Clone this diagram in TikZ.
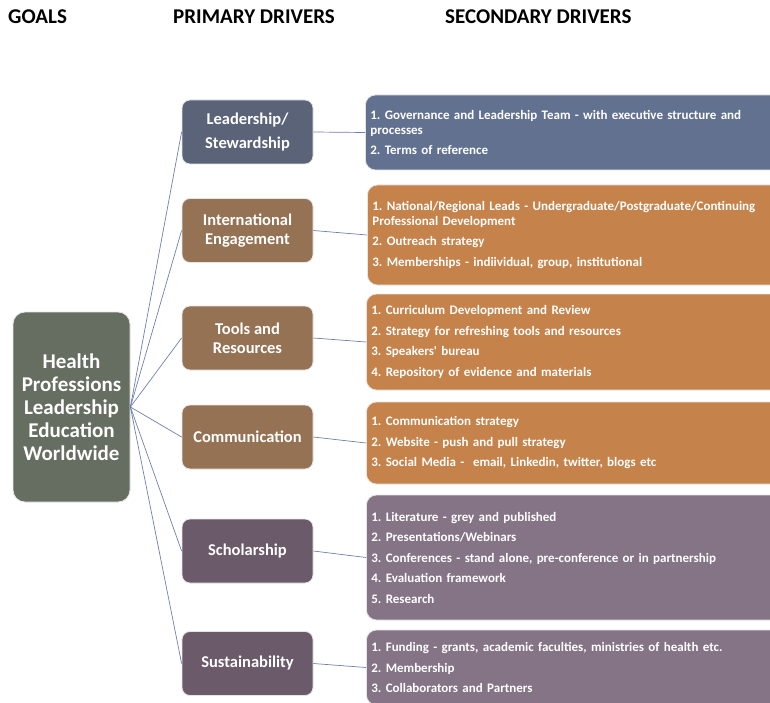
\documentclass[tikz,border=0pt]{standalone}
\usepackage{fontspec}
\setmainfont{Carlito}[Ligatures=TeXOff]
\frenchspacing
\definecolor{goalgreen}{RGB}{101,110,96}
\definecolor{primblue}{RGB}{90,99,120}
\definecolor{primbrown}{RGB}{149,114,83}
\definecolor{primplum}{RGB}{107,90,106}
\definecolor{secblue}{RGB}{98,113,143}
\definecolor{secorange}{RGB}{197,130,74}
\definecolor{secmauve}{RGB}{132,116,134}
\definecolor{linkblue}{RGB}{110,128,176}

\begin{document}
\begin{tikzpicture}[x=1pt,y=-1pt,
    heading/.style={anchor=west,inner sep=0pt,font=\fontsize{21}{24}\selectfont\bfseries},
    goalbox/.style={fill=goalgreen,draw=black!10,line width=0.8pt,rounded corners=12pt,
        minimum width=117pt,minimum height=190pt,inner sep=0pt,align=center,text=white,
        font=\fontsize{21}{23}\selectfont\bfseries},
    primbox/.style={draw=black!10,line width=0.8pt,rounded corners=8pt,
        minimum width=131pt,minimum height=64pt,inner sep=0pt,align=center,text=white,
        font=\fontsize{16.5}{19}\selectfont\bfseries},
    secbox/.style={draw=black!10,line width=0.8pt,rounded corners=10pt,anchor=west,
        text width=410pt,inner sep=5pt,align=left,text=white,
        font=\fontsize{13}{15}\selectfont\bfseries},
    link/.style={draw=linkblue,line width=0.7pt}]
    \useasboundingbox (0,0) rectangle (770,703);

    \node[heading] (hgoals) at (8,17) {GOALS};
    \node[heading] (hprim) at (173,17) {PRIMARY DRIVERS};
    \node[heading] (hsec) at (445,17) {SECONDARY DRIVERS};

    \node[goalbox] (goal) at (71.5,407) {Health\\Professions\\Leadership\\Education\\Worldwide};

    \node[primbox,fill=primblue] (lead) at (247.5,132) {Leadership/\\[5pt]Stewardship};
    \node[primbox,fill=primbrown] (intl) at (247.5,230.5) {International\\Engagement};
    \node[primbox,fill=primbrown] (tools) at (247.5,338) {Tools and\\Resources};
    \node[primbox,fill=primbrown] (comm) at (247.5,437) {Communication};
    \node[primbox,fill=primplum] (schol) at (247.5,551) {Scholarship};
    \node[primbox,fill=primplum] (sust) at (247.5,663.5) {Sustainability};

    \node[secbox,fill=secblue,minimum height=75pt] (slead) at (365,132.5)
        {1. Governance and Leadership Team - with executive structure and\\processes\\[5.5pt]
         2. Terms of reference};
    \node[secbox,fill=secorange,minimum height=100pt] (sintl) at (367,235)
        {1. National/Regional Leads - Undergraduate/Postgraduate/Continuing\\Professional Development\\[5.5pt]
         2. Outreach strategy\\[5.5pt]
         3. Memberships - indiividual, group, institutional};
    \node[secbox,fill=secorange,minimum height=96pt] (stools) at (366,342)
        {1. Curriculum Development and Review\\[5.5pt]
         2. Strategy for refreshing tools and resources\\[5.5pt]
         3. Speakers' bureau\\[5.5pt]
         4. Repository of evidence and materials};
    \node[secbox,fill=secorange,minimum height=82pt] (scomm) at (366,443)
        {1. Communication strategy\\[5.5pt]
         2. Website - push and pull strategy\\[5.5pt]
         3. Social Media -\ \ email, Linkedin, twitter, blogs etc};
    \node[secbox,fill=secmauve,minimum height=125pt] (sschol) at (366,557.5)
        {1. Literature - grey and published\\[5.5pt]
         2. Presentations/Webinars\\[5.5pt]
         3. Conferences - stand alone, pre-conference or in partnership\\[5.5pt]
         4. Evaluation framework\\[5.5pt]
         5. Research};
    \node[secbox,fill=secmauve,minimum height=75pt] (ssust) at (366,667.5)
        {1. Funding - grants, academic faculties, ministries of health etc.\\[5.5pt]
         2. Membership\\[5.5pt]
         3. Collaborators and Partners};

    \draw[link] (goal.east) -- (lead.west);
    \draw[link] (goal.east) -- (intl.west);
    \draw[link] (goal.east) -- (tools.west);
    \draw[link] (goal.east) -- (comm.west);
    \draw[link] (goal.east) -- (schol.west);
    \draw[link] (goal.east) -- (sust.west);

    \draw[link] (lead.east) -- (slead.west);
    \draw[link] (intl.east) -- (sintl.west);
    \draw[link] (tools.east) -- (stools.west);
    \draw[link] (comm.east) -- (scomm.west);
    \draw[link] (schol.east) -- (sschol.west);
    \draw[link] (sust.east) -- (ssust.west);
\end{tikzpicture}
\end{document}
